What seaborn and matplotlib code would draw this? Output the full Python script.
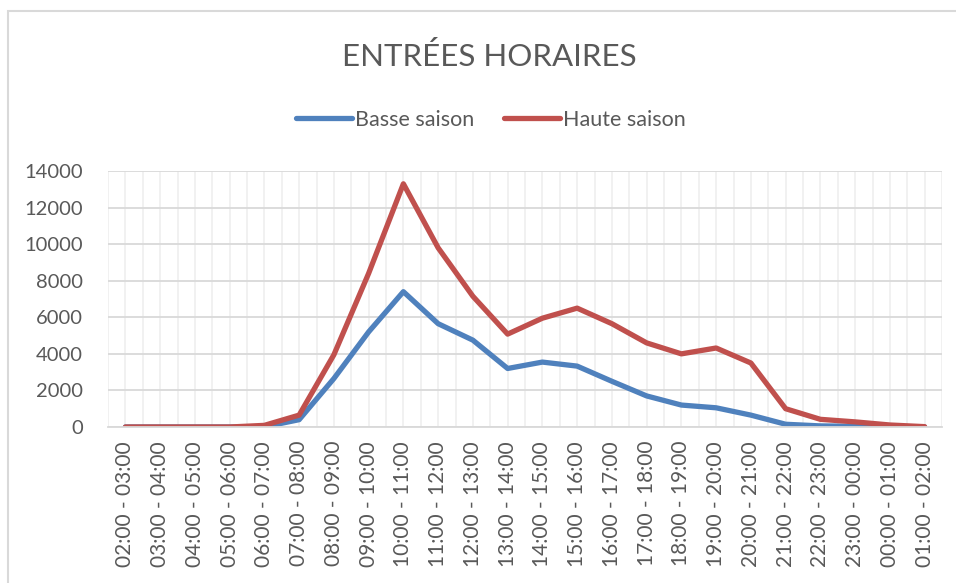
import numpy as np
import pandas as pd
import matplotlib
matplotlib.use("Agg")
import matplotlib.pyplot as plt
from matplotlib.patches import Rectangle
import seaborn as sns

creneaux = ["02:00 - 03:00", "03:00 - 04:00", "04:00 - 05:00", "05:00 - 06:00",
            "06:00 - 07:00", "07:00 - 08:00", "08:00 - 09:00", "09:00 - 10:00",
            "10:00 - 11:00", "11:00 - 12:00", "12:00 - 13:00", "13:00 - 14:00",
            "14:00 - 15:00", "15:00 - 16:00", "16:00 - 17:00", "17:00 - 18:00",
            "18:00 - 19:00", "19:00 - 20:00", "20:00 - 21:00", "21:00 - 22:00",
            "22:00 - 23:00", "23:00 - 00:00", "00:00 - 01:00", "01:00 - 02:00"]
basse_saison = [0, 0, 0, 0, 10, 400, 2650, 5200, 7400, 5650, 4750, 3200,
                3550, 3330, 2500, 1700, 1200, 1050, 650, 150, 60, 40, 20, 0]
haute_saison = [0, 0, 0, 0, 90, 650, 3950, 8400, 13300, 9800, 7150, 5080,
                5950, 6500, 5650, 4600, 4000, 4320, 3500, 1000, 420, 280, 110, 20]
series_names = ["Basse saison", "Haute saison"]
y_ticks = [0, 2000, 4000, 6000, 8000, 10000, 12000, 14000]
titre = "ENTRÉES HORAIRES"

df = pd.DataFrame({
    "Créneau": creneaux * 2,
    "Entrées": basse_saison + haute_saison,
    "Saison": [series_names[0]] * len(creneaux) + [series_names[1]] * len(creneaux),
})

sns.set_style("white")
plt.rcParams["font.family"] = ["Lato", "DejaVu Sans"]
text_color = "#595959"

fig = plt.figure(figsize=(9.56, 5.83), dpi=100)
ax = fig.add_axes([108 / 956, 1 - 427 / 583, (942 - 108) / 956, (427 - 171) / 583])

sns.lineplot(data=df, x="Créneau", y="Entrées", hue="Saison", sort=False,
             palette={"Basse saison": "#4F81BD", "Haute saison": "#C0504D"},
             linewidth=3.8, ax=ax, legend=True)

ax.set_xlim(-0.5, len(creneaux) - 0.5)
ax.set_ylim(0, 14000)
ax.set_yticks(y_ticks)
ax.set_yticklabels([str(v) for v in y_ticks])
ax.set_xticks(range(len(creneaux)))
ax.set_xticklabels(creneaux, rotation=90)
ax.set_xticks(np.arange(-0.5, len(creneaux), 1.0), minor=True)

ax.set_xlabel("")
ax.set_ylabel("")
ax.grid(True, axis="y", color="#D9D9D9", linewidth=1.3, zorder=0)
ax.grid(True, axis="x", which="both", color="#F0F0F0", linewidth=1.3, zorder=0)
ax.set_axisbelow(True)
for side in ["top", "right"]:
    ax.spines[side].set_visible(False)
ax.spines["left"].set_visible(False)
ax.spines["bottom"].set_color("#D9D9D9")
ax.spines["bottom"].set_linewidth(1.3)

ax.tick_params(axis="y", length=0, pad=18, labelsize=14.5, labelcolor=text_color)
ax.tick_params(axis="x", which="both", length=0, pad=10, labelsize=15, labelcolor=text_color)

leg = ax.legend(loc="center", bbox_to_anchor=(491 / 956, 1 - 120 / 583),
                bbox_transform=fig.transFigure, ncol=2, frameon=False,
                fontsize=15.5, handlelength=2.6, handletextpad=0.15, columnspacing=1.35,
                labelcolor=text_color)
for line in leg.get_lines():
    line.set_linewidth(3.8)
    line.set_solid_capstyle("round")

fig.text(489 / 956, 1 - 56 / 583, titre, ha="center", va="center",
         fontsize=22.5, color=text_color)

fig.patches.append(Rectangle((8 / 956, -0.1), 1.2, 1.1 - 11 / 583,
                             transform=fig.transFigure, fill=False,
                             edgecolor="#D9D9D9", linewidth=1.5))

fig.savefig("out.png", dpi=100)
